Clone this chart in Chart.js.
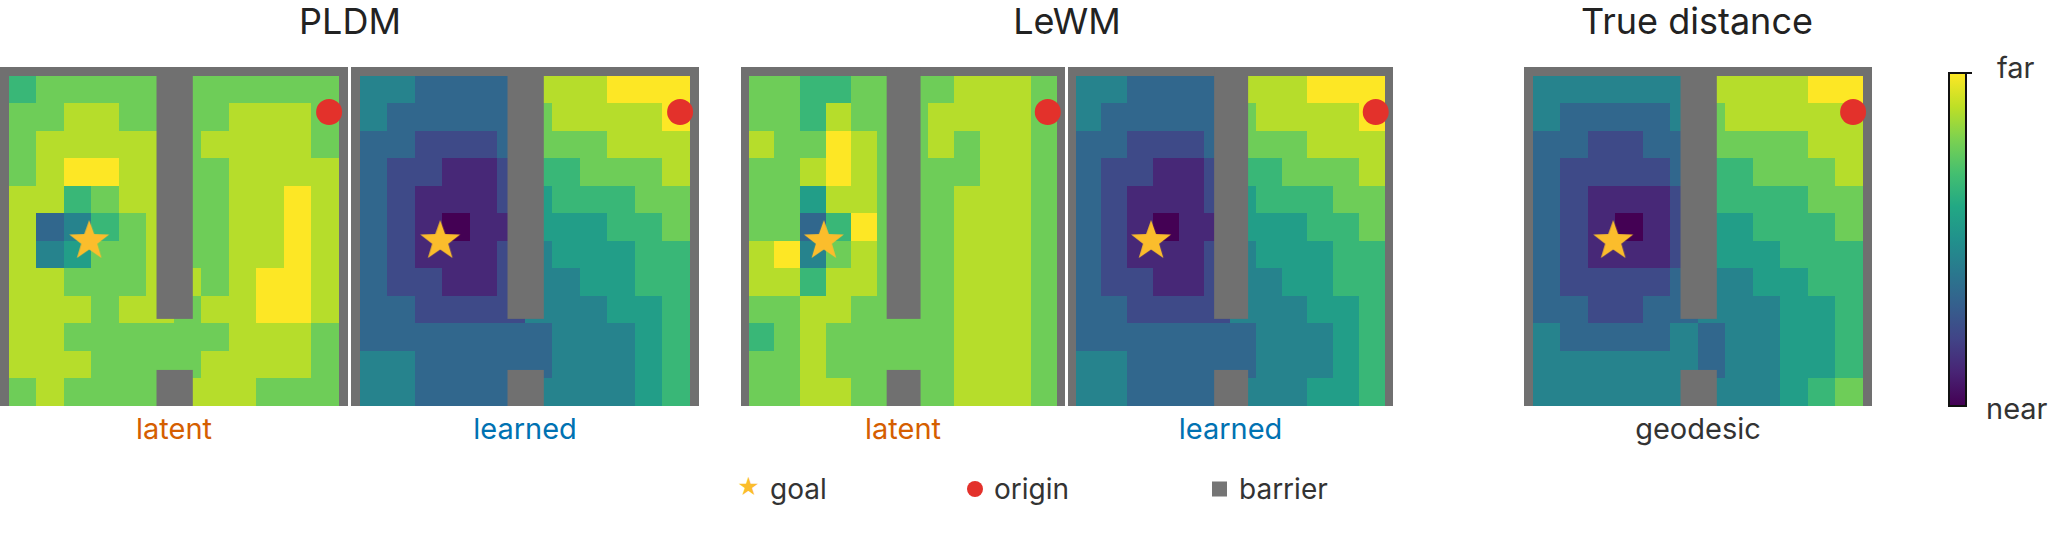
<!DOCTYPE html>
<html><head><meta charset="utf-8">
<script src="https://cdn.jsdelivr.net/npm/chart.js@4"></script>
<style>
body{margin:0;width:2048px;height:543px;background:#fff;position:relative;overflow:hidden;font-family:Inter,"Liberation Sans",sans-serif;color:#222}
canvas.p{position:absolute}
.t{position:absolute;transform:translate(-50%,-50%);white-space:nowrap}
.title{font-size:36px}
.sub{font-size:29px}
.leg{font-size:28px;color:#333;position:absolute;transform:translateY(-50%)}
</style></head><body>
<script>
// distance levels 0 (near) .. 9 (far); rows top->bottom, 12 columns left->right
const pldmLatent=["677777777777","778877778887","788888788887","789988778888","886788778898","834678778898","845778778898","887778878998","888788788998","887777778887","888777788887","787777888777"];
const pldmLearned=["443333888999","433333788889","332223777888","322112667778","321112566677","321011555667","321112455566","322112445566","332222444556","333333344456","443333344456","443333444456"];
const lewmLatent=["776677778887","776877788887","877987787887","778987777887","775887778887","773697778887","894787778887","886887778887","778877778887","678777778887","778777778887","778877778887"];
const lewmLearned=["443333888999","433333788889","332223777888","322112667778","321112566677","321011555667","321112455566","322112445566","332222444556","333333344456","443333344456","443333444556"];
const trueDist=["444444888899","433334788888","332233777788","322223667778","321112666677","321012556667","321112555666","322223445566","332233444556","433334344556","444444344556","444444444567"];
const panelTitles=["PLDM","LeWM","True distance"];
const panelLabels=["latent","learned","latent","learned","geodesic"];
const goal={x:0.243,y:0.497};
const origin={x:0.97,y:0.109};
const barriers=[{x0:0.447,x1:0.557,y0:0,y1:0.736},{x0:0.447,x1:0.557,y0:0.921,y1:1}];
const legendItems=["goal","origin","barrier"];
const colorbarLabels=["far","near"];

const VIR=["#440154","#482475","#414487","#355f8d","#2a788e","#21918c","#22a884","#44bf70","#7ad151","#bddf26","#fde725"];
function hex(h){return [1,3,5].map(i=>parseInt(h.substr(i,2),16));}
function viridis(v){v=Math.max(0,Math.min(1,v));const f=v*10,i=Math.min(9,Math.floor(f)),t=f-i;const a=hex(VIR[i]),b=hex(VIR[i+1]);return `rgb(${a.map((c,k)=>Math.round(c+(b[k]-c)*t)).join(",")})`;}

const starImg=document.createElement('canvas');starImg.width=44;starImg.height=44;
(function(){const c=starImg.getContext('2d');c.fillStyle='#fbbd2c';c.beginPath();for(let i=0;i<10;i++){const r=i%2?8.5:21,a=-Math.PI/2+i*Math.PI/5;c.lineTo(22+r*Math.cos(a),23+r*Math.sin(a));}c.closePath();c.fill();})();

const panels=[
 {grid:pldmLatent,x0:0,x1:348,ix0:9,ix1:339},
 {grid:pldmLearned,x0:351,x1:699,ix0:360,ix1:690},
 {grid:lewmLatent,x0:741,x1:1065,ix0:749,ix1:1057},
 {grid:lewmLearned,x0:1068,x1:1393,ix0:1076,ix1:1385},
 {grid:trueDist,x0:1524,x1:1872,ix0:1533,ix1:1863}];
const top0=67,itop=76,bot=406;
const labColors={latent:"#d55e00",learned:"#0072b2",geodesic:"#333"};

const heat={id:'heat',beforeDatasetsDraw(ch){const g=ch.config.options.plugins.heat.grid,c=ch.ctx,x=ch.scales.x,y=ch.scales.y;
 c.save();c.fillStyle='#707070';c.fillRect(0,0,ch.width,ch.height);
 const R=g.length,C=g[0].length;
 for(let r=0;r<R;r++)for(let k=0;k<C;k++){const px0=Math.floor(x.getPixelForValue(k/C)),px1=Math.ceil(x.getPixelForValue((k+1)/C)),py0=Math.floor(y.getPixelForValue(r/R)),py1=Math.ceil(y.getPixelForValue((r+1)/R));
  c.fillStyle=viridis(+g[r][k]/9);c.fillRect(px0,py0,px1-px0,py1-py0);}
 c.fillStyle='#707070';
 barriers.forEach(b=>{const a=x.getPixelForValue(b.x0),bb=x.getPixelForValue(b.x1),t=y.getPixelForValue(b.y0),u=y.getPixelForValue(b.y1);c.fillRect(a,t-10,bb-a,u-t+10);});
 c.restore();}};

panels.forEach((p,i)=>{const cv=document.createElement('canvas');cv.className='p';cv.width=p.x1-p.x0;cv.height=bot-top0;cv.style.left=p.x0+'px';cv.style.top=top0+'px';document.body.appendChild(cv);
 new Chart(cv,{type:'scatter',plugins:[heat],data:{datasets:[
  {data:[goal],pointStyle:starImg,pointRadius:20},
  {data:[origin],pointStyle:'circle',pointRadius:13,backgroundColor:'#e3312b',borderWidth:0}]},
  options:{responsive:false,animation:false,devicePixelRatio:1,clip:false,
   layout:{autoPadding:false,padding:{left:p.ix0-p.x0,right:p.x1-p.ix1,top:itop-top0,bottom:0}},
   scales:{x:{type:'linear',min:0,max:1,display:false},y:{type:'linear',min:0,max:1,reverse:true,display:false}},
   plugins:{legend:{display:false},tooltip:{enabled:false},heat:{grid:p.grid}}}});
 const l=document.createElement('div');l.className='t sub';l.textContent=panelLabels[i];l.style.left=((p.x0+p.x1)/2)+'px';l.style.top='428px';l.style.color=labColors[panelLabels[i]];document.body.appendChild(l);
});
[[350,panelTitles[0]],[1067,panelTitles[1]],[1697,panelTitles[2]]].forEach(([x,t])=>{const d=document.createElement('div');d.className='t title';d.textContent=t;d.style.left=x+'px';d.style.top='21px';document.body.appendChild(d);});
const cb=document.createElement('div');cb.style.cssText=`position:absolute;left:1948px;top:72px;width:15px;height:331px;border:2.5px solid #111;background:linear-gradient(to top,${VIR.join(',')})`;document.body.appendChild(cb);
const tk=document.createElement('div');tk.style.cssText='position:absolute;left:1966px;top:72px;width:6px;height:2px;background:#111';document.body.appendChild(tk);
[[colorbarLabels[0],1997,67],[colorbarLabels[1],1986,408]].forEach(([t,x,y])=>{const d=document.createElement('div');d.className='t sub';d.style.transform='translateY(-50%)';d.textContent=t;d.style.left=(x)+'px';d.style.top=y+'px';d.style.color='#333';document.body.appendChild(d);});
const lg=document.createElement('div');lg.innerHTML=`<div class="leg" style="left:737px;top:487px;color:#fbbd2c;font-size:22px">★</div><div class="leg" style="left:770px;top:489px">${legendItems[0]}</div>
<div class="leg" style="left:967px;top:489px;width:16px;height:16px;border-radius:50%;background:#e3312b"></div><div class="leg" style="left:994px;top:489px">${legendItems[1]}</div>
<div class="leg" style="left:1212px;top:489px;width:15px;height:15px;background:#757575"></div><div class="leg" style="left:1239px;top:489px">${legendItems[2]}</div>`;document.body.appendChild(lg);
</script></body></html>
